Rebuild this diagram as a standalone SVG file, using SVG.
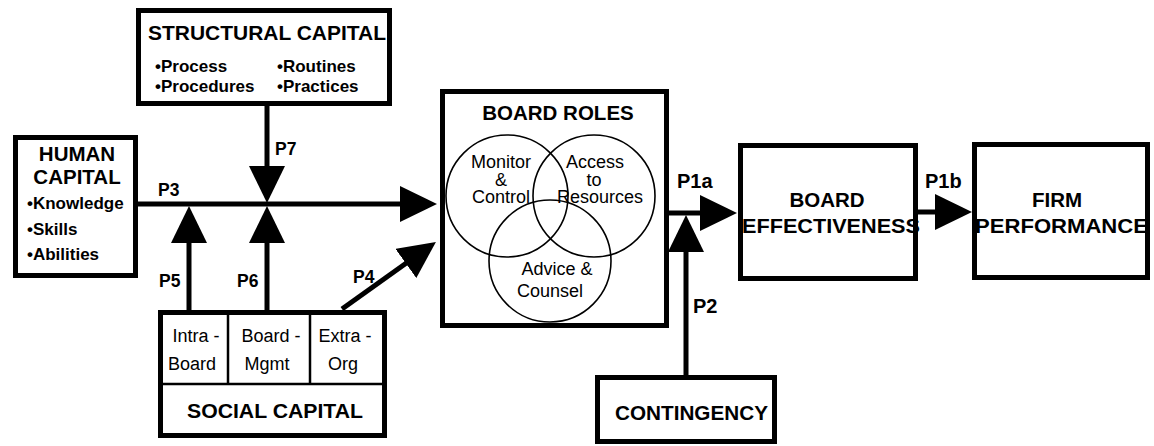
<svg xmlns="http://www.w3.org/2000/svg" width="1154" height="446" viewBox="0 0 1154 446">
<style>
.box{fill:#fff;stroke:#000;stroke-width:5}
.div{fill:none;stroke:#000;stroke-width:2.5}
.circ{fill:none;stroke:#000;stroke-width:1.6}
.conn{fill:none;stroke:#000;stroke-width:5;marker-end:url(#ah)}
text{font-family:"Liberation Sans",Arial,Helvetica,sans-serif;fill:#000}
.t{font-size:20.5px;font-weight:bold}
.b{font-size:17px;font-weight:bold}
.r{font-size:18px}
.p{font-size:17.5px;font-weight:bold}
.pl{font-size:20px;font-weight:bold}
.c{text-anchor:middle}
</style>
<defs>
<marker id="ah" viewBox="0 0 37 36" refX="5" refY="18" markerWidth="37" markerHeight="36" markerUnits="userSpaceOnUse" orient="auto">
<path d="M0,0 L37,18 L0,36 Z" fill="#000"/>
</marker>
</defs>
<rect width="1154" height="446" fill="#fff"/>

<g id="connectors">
<line class="conn" x1="267" y1="104" x2="267" y2="171"/>
<line class="conn" x1="138" y1="204" x2="405" y2="204"/>
<line class="conn" x1="189" y1="310" x2="189" y2="238"/>
<line class="conn" x1="267" y1="310" x2="267" y2="238"/>
<line class="conn" x1="342" y1="309" x2="409.9" y2="260.5"/>
<line class="conn" x1="669" y1="213" x2="705" y2="213"/>
<line class="conn" x1="686" y1="376" x2="686" y2="247"/>
<line class="conn" x1="918" y1="212" x2="940" y2="212"/>
<text class="p" x="275" y="155">P7</text>
<text class="p" x="158" y="196">P3</text>
<text class="p" x="159" y="287">P5</text>
<text class="p" x="237" y="287">P6</text>
<text class="p" x="353" y="283">P4</text>
<text class="pl" x="677" y="188">P1a</text>
<text class="pl" x="925" y="188">P1b</text>
<text class="pl" x="693" y="313">P2</text>
</g>

<g id="structural-capital">
<rect class="box" x="138.5" y="10.5" width="251" height="93"/>
<text class="t" x="148" y="40" textLength="238" lengthAdjust="spacingAndGlyphs">STRUCTURAL CAPITAL</text>
<text class="b" x="155" y="72">•Process</text>
<text class="b" x="155" y="92">•Procedures</text>
<text class="b" x="277" y="72">•Routines</text>
<text class="b" x="277" y="92">•Practices</text>
</g>

<g id="human-capital">
<rect class="box" x="15.5" y="137.5" width="120" height="138"/>
<text class="t c" x="77" y="161">HUMAN</text>
<text class="t c" x="77" y="184">CAPITAL</text>
<text class="b" x="27" y="209">•Knowledge</text>
<text class="b" x="27" y="235">•Skills</text>
<text class="b" x="27" y="260">•Abilities</text>
</g>

<g id="social-capital">
<rect class="box" x="160.5" y="312.5" width="224" height="123"/>
<line class="div" x1="160" y1="384" x2="385" y2="384"/>
<line class="div" x1="228" y1="312" x2="228" y2="384"/>
<line class="div" x1="310" y1="312" x2="310" y2="384"/>
<text class="r c" x="196" y="342">Intra -</text>
<text class="r c" x="192" y="370">Board</text>
<text class="r c" x="271" y="342">Board -</text>
<text class="r c" x="267" y="370">Mgmt</text>
<text class="r c" x="345" y="342">Extra -</text>
<text class="r c" x="343" y="370">Org</text>
<text class="t" x="187" y="418" textLength="176" lengthAdjust="spacingAndGlyphs">SOCIAL CAPITAL</text>
</g>

<g id="board-roles">
<rect class="box" x="442.5" y="91.5" width="224" height="234"/>
<text class="t c" x="558" y="120">BOARD ROLES</text>
<circle class="circ" cx="507" cy="196" r="61"/>
<circle class="circ" cx="594" cy="196" r="61"/>
<circle class="circ" cx="550" cy="261" r="61"/>
<text class="r c" x="501" y="168">Monitor</text>
<text class="r c" x="501" y="185.5">&amp;</text>
<text class="r c" x="501" y="203">Control</text>
<text class="r c" x="595" y="168">Access</text>
<text class="r c" x="594" y="185.5">to</text>
<text class="r c" x="600" y="203">Resources</text>
<text class="r c" x="557" y="275">Advice &amp;</text>
<text class="r c" x="550" y="297">Counsel</text>
</g>

<g id="contingency">
<rect class="box" x="597.5" y="377.5" width="177" height="64"/>
<text class="t" x="615" y="420" textLength="153" lengthAdjust="spacingAndGlyphs">CONTINGENCY</text>
</g>

<g id="board-effectiveness">
<rect class="box" x="740.5" y="145.5" width="175" height="133"/>
<text class="t c" x="827" y="207">BOARD</text>
<text class="t" x="742" y="233" textLength="178" lengthAdjust="spacingAndGlyphs">EFFECTIVENESS</text>
</g>

<g id="firm-performance">
<rect class="box" x="974.5" y="144.5" width="173" height="133"/>
<text class="t c" x="1057" y="207">FIRM</text>
<text class="t" x="975" y="233" textLength="173" lengthAdjust="spacingAndGlyphs">PERFORMANCE</text>
</g>
</svg>
